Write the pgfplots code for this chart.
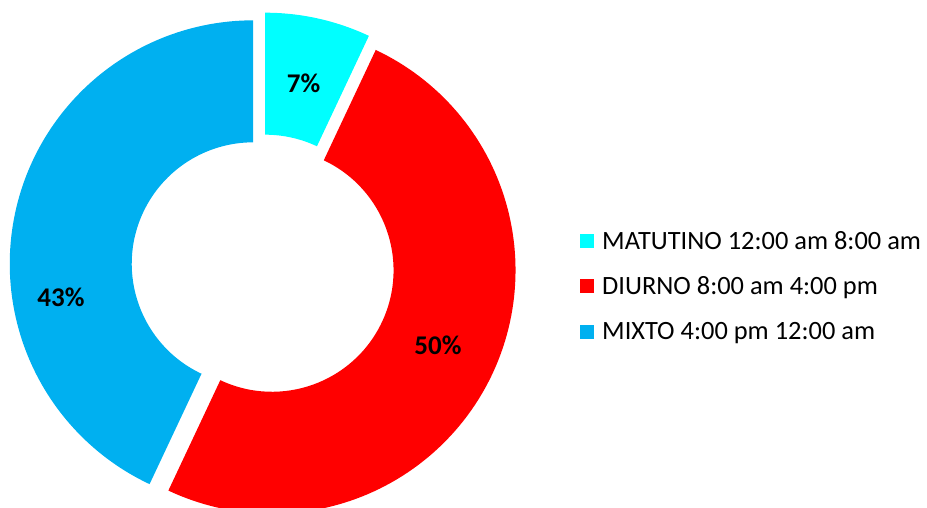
\documentclass[border=0pt]{standalone}
\usepackage{pgfplots}
\pgfplotsset{compat=1.18}
\usepackage{fontspec}
\setmainfont{Carlito}

\definecolor{cmat}{HTML}{00FFFF}
\definecolor{cdiu}{HTML}{FF0000}
\definecolor{cmix}{HTML}{00B0F0}

% donut geometry (1 unit = 1pt)
\def\cx{263}
\def\cy{242}
\def\Ro{243.5}
\def\Ri{121.5}

% shares: 7, 50, 43 percent -> clockwise from 12 o'clock
% #1 colour, #2 start angle, #3 end angle, #4 #5 explode offset
\newcommand{\slice}[5]{%
  \addplot[fill=#1, draw=none, domain=#2:#3, samples=120, variable=\t]
    ({\cx+#4+\Ro*cos(\t)},{\cy+#5+\Ro*sin(\t)})
    -- (axis cs:{\cx+#4+\Ri*cos(#3)},{\cy+#5+\Ri*sin(#3)})
    arc[start angle=#3, end angle=#2, radius=\Ri pt] -- cycle;
}

\begin{document}
\begin{tikzpicture}
\begin{axis}[
    x=1pt, y=1pt,
    xmin=0, xmax=927, ymin=0, ymax=508,
    hide axis,
    clip=true,
    legend cell align=left,
    legend style={at={(axis cs:577,222)}, anchor=west, draw=none, fill=none,
        font=\fontsize{26.4}{30}\selectfont, row sep=22pt},
    legend image code/.code={\fill[#1] (0pt,-7pt) rectangle (14pt,7pt);
        \path (20pt,0pt);},
]
\slice{cmat}{64.8}{90}{2.2}{9.8}
\addlegendentry{MATUTINO 12:00 am 8:00 am}
\slice{cdiu}{-115.2}{64.8}{9.05}{-4.26}
\addlegendentry{DIURNO 8:00 am 4:00 pm}
\slice{cmix}{90}{244.8}{-9.76}{2.18}
\addlegendentry{MIXTO 4:00 pm 12:00 am}

\node[font=\bfseries\fontsize{27}{30}\selectfont] at (axis cs:303.5,425) {7\%};
\node[font=\bfseries\fontsize{27}{30}\selectfont] at (axis cs:438,163) {50\%};
\node[font=\bfseries\fontsize{27}{30}\selectfont] at (axis cs:61,210.5) {43\%};
\path (axis cs:0,0) rectangle (axis cs:927,508);
\end{axis}
\end{tikzpicture}
\end{document}
